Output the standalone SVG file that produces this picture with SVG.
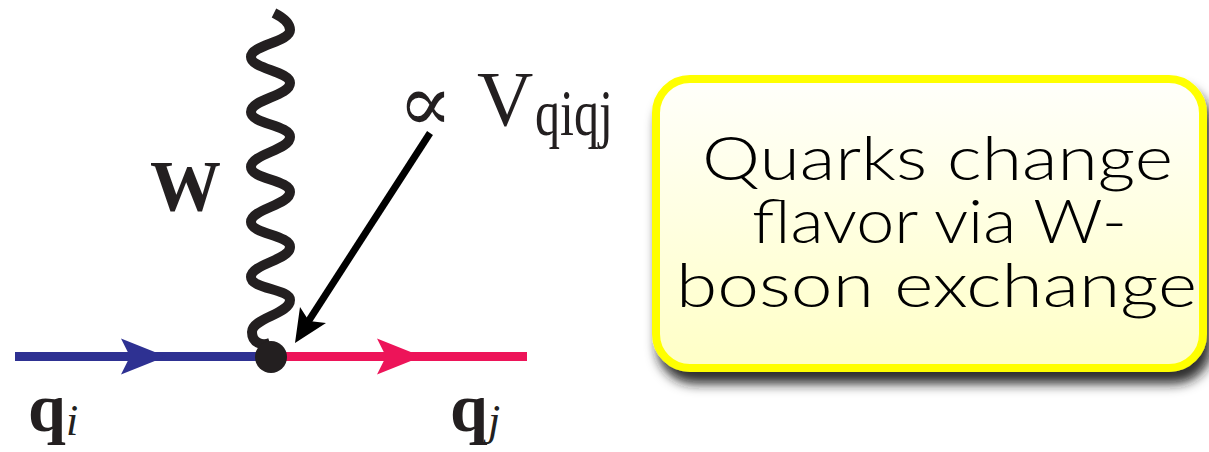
<svg xmlns="http://www.w3.org/2000/svg" width="1209" height="452" viewBox="0 0 1209 452">
<style>
.serif{font-family:"Liberation Serif","DejaVu Serif",serif;fill:#231f20}
.box-text{font-family:Lato,"Noto Sans","DejaVu Sans",sans-serif;font-size:62px;font-weight:300;fill:#000;text-anchor:middle}
</style>
<defs>
<linearGradient id="boxfill" x1="0" y1="0" x2="0" y2="1">
<stop offset="0" stop-color="#fffffb"/>
<stop offset="1" stop-color="#ffffc6"/>
</linearGradient>
<filter id="shadow" x="-10%" y="-10%" width="130%" height="140%">
<feGaussianBlur in="SourceAlpha" stdDeviation="6"/>
<feOffset dx="5" dy="12" result="b"/>
<feFlood flood-color="#1a1a1a" flood-opacity="0.9"/>
<feComposite in2="b" operator="in"/>
<feMerge><feMergeNode/><feMergeNode in="SourceGraphic"/></feMerge>
</filter>
</defs>
<rect width="1209" height="452" fill="#ffffff"/>
<g id="connectors">
<line id="quark-in" x1="15" y1="356.5" x2="271" y2="356.5" stroke="#2e3192" stroke-width="9"/>
<path d="M121,338.5 L166,356.5 L121,374.5 L130,356.5 Z" fill="#2e3192"/>
<line id="quark-out" x1="271" y1="356.5" x2="527" y2="356.5" stroke="#ed1459" stroke-width="9"/>
<path d="M377,338.5 L422,356.5 L377,374.5 L386,356.5 Z" fill="#ed1459"/>
<path id="w-boson" fill="none" stroke="#231f20" stroke-width="10" stroke-linejoin="round" d="M274,13 C284,18 290,23 290,30 C290,42 251,45 251,57 C251,69 290,71 290,83 C290,96 251,99 251,112 C251,124 290,125 290,137 C290,150 251,154 251,167 C251,179 290,180 290,192 C290,205 251,209 251,222 C251,234 290,235 290,247 C290,260 251,264 251,277 C251,289 290,289 290,300 C290,314 252,318 252,332 C252,343 262,346 270,343"/>
<line id="coupling-arrow" x1="430" y1="133" x2="306" y2="325" stroke="#000" stroke-width="7"/>
<path d="M295,343 L300,307 L309,321 L326,323 Z" fill="#000"/>
</g>
<g id="vertex">
<circle cx="271" cy="357" r="16" fill="#231f20"/>
</g>
<g id="label-w">
<text class="serif" x="150" y="210" font-size="71" font-weight="bold">W</text>
</g>
<g id="label-coupling">
<text class="serif" x="398" y="131" font-size="81">∝</text>
<text class="serif" x="477" y="125" font-size="78">V</text>
<text class="serif" x="535" y="135" font-size="66" textLength="78" lengthAdjust="spacingAndGlyphs">qiqj</text>
</g>
<g id="label-qi">
<text class="serif" x="28" y="431" font-size="68" font-weight="bold">q</text>
<text class="serif" x="66" y="435" font-size="44" font-style="italic">i</text>
</g>
<g id="label-qj">
<text class="serif" x="450" y="431" font-size="68" font-weight="bold">q</text>
<text class="serif" x="488" y="435" font-size="44" font-style="italic">j</text>
</g>
<g id="note-box">
<rect x="656" y="79" width="547" height="289" rx="34" ry="34" fill="url(#boxfill)" stroke="#ffff00" stroke-width="8" filter="url(#shadow)"/>
<text class="box-text" x="937.5" y="180" textLength="471" lengthAdjust="spacingAndGlyphs">Quarks change</text>
<text class="box-text" x="939.5" y="243" textLength="375" lengthAdjust="spacingAndGlyphs">flavor via W-</text>
<text class="box-text" x="936.5" y="307" textLength="521" lengthAdjust="spacingAndGlyphs">boson exchange</text>
</g>
</svg>
